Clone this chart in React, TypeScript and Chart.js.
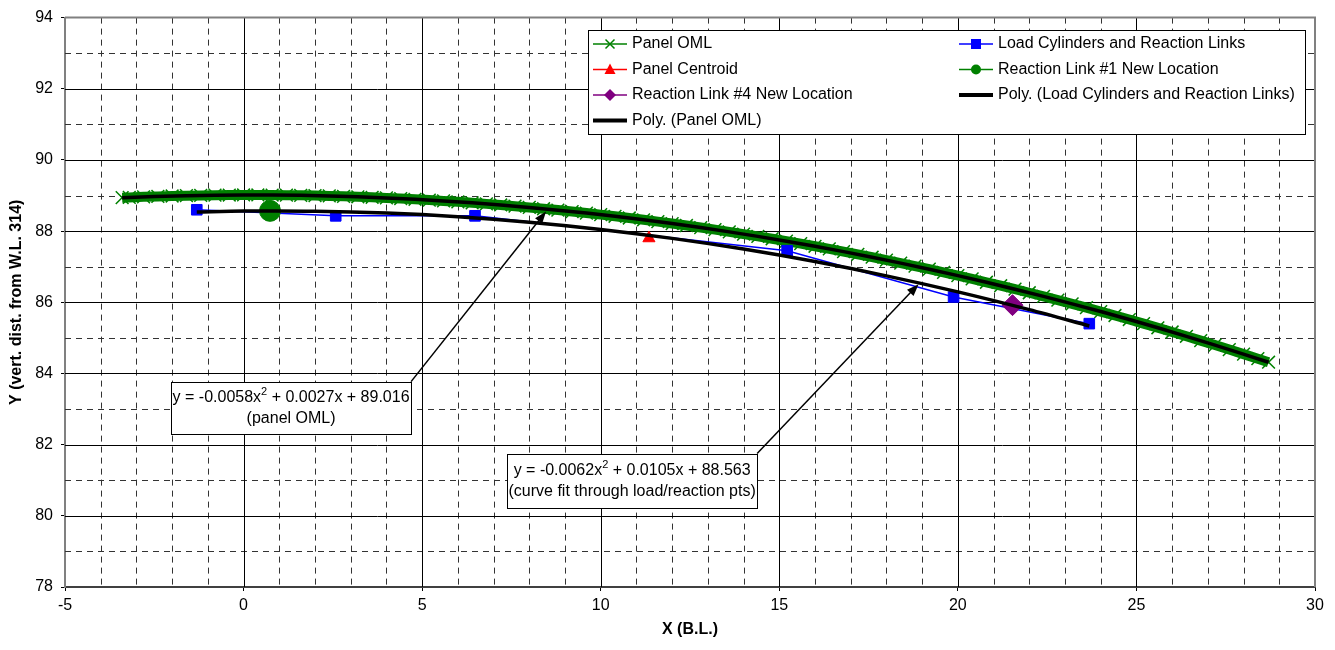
import React, { useEffect, useRef } from 'react';
import { Chart, registerables } from 'chart.js';

Chart.register(...registerables);

// ---------------- data ----------------
const omlX = [-3.4, -3.2, -2.8, -2.4, -2.0, -1.6, -1.2, -0.8, -0.4, 0,
  0.4, 0.8, 1.2, 1.6, 2.0, 2.4, 2.8, 3.2, 3.6, 4.0,
  4.4, 4.8, 5.2, 5.6, 6.0, 6.4, 6.8, 7.2, 7.6, 8.0,
  8.4, 8.8, 9.2, 9.6, 10.0, 10.4, 10.8, 11.2, 11.6, 12.0,
  12.4, 12.8, 13.2, 13.6, 14.0, 14.4, 14.8, 15.2, 15.6, 16.0,
  16.4, 16.8, 17.2, 17.6, 18.0, 18.4, 18.8, 19.2, 19.6, 20.0,
  20.4, 20.8, 21.2, 21.6, 22.0, 22.4, 22.8, 23.2, 23.6, 24.0,
  24.4, 24.8, 25.2, 25.6, 26.0, 26.4, 26.8, 27.2, 27.6, 28.0,
  28.4, 28.7];
const omlY = [88.940, 88.948, 88.963, 88.976, 88.987, 88.997, 89.004, 89.010, 89.014, 89.016,
  89.016, 89.014, 89.011, 89.005, 88.998, 88.989, 88.978, 88.965, 88.951, 88.934,
  88.916, 88.895, 88.873, 88.849, 88.823, 88.796, 88.766, 88.735, 88.702, 88.666,
  88.629, 88.591, 88.550, 88.507, 88.463, 88.417, 88.369, 88.319, 88.267, 88.213,
  88.158, 88.100, 88.041, 87.980, 87.917, 87.852, 87.786, 87.717, 87.647, 87.574,
  87.500, 87.424, 87.347, 87.267, 87.185, 87.102, 87.017, 86.930, 86.841, 86.750,
  86.657, 86.563, 86.466, 86.368, 86.268, 86.166, 86.063, 85.957, 85.849, 85.740,
  85.629, 85.516, 85.401, 85.284, 85.165, 85.045, 84.923, 84.798, 84.672, 84.544,
  84.415, 84.316];

const loadX = [-1.31, 2.58, 6.48, 15.22, 19.88, 23.68];
const loadY = [88.60, 88.43, 88.43, 87.45, 86.15, 85.40];

const centroidX = [11.35];
const centroidY = [87.80];

const link1X = [0.74];
const link1Y = [88.57];

const link4X = [21.53];
const link4Y = [85.92];

const polyLoadX = [-1.31, 0, 2, 4, 6, 8, 10, 12, 14, 16, 18, 20, 22, 23.68];
const polyLoadY = [88.539, 88.563, 88.559, 88.506, 88.403, 88.250, 88.048, 87.796, 87.495, 87.144, 86.743, 86.293, 85.793, 85.335];

const polyOmlX = [-3.4, -1.6, 0, 1.6, 3.2, 4.8, 6.4, 8.0, 9.6, 11.2, 12.8, 14.4, 16.0, 17.6, 19.2, 20.8, 22.4, 24.0, 25.6, 27.2, 28.7];
const polyOmlY = [88.940, 88.997, 89.016, 89.005, 88.965, 88.895, 88.796, 88.666, 88.507, 88.319, 88.100, 87.852, 87.574, 87.267, 86.930, 86.563, 86.166, 85.740, 85.284, 84.798, 84.316];

const xMin = -5, xMax = 30, xStep = 5;
const yMin = 78, yMax = 94, yStep = 2;

const seriesNames = [
  'Panel OML',
  'Load Cylinders and Reaction Links',
  'Panel Centroid',
  'Reaction Link #1 New Location',
  'Reaction Link #4 New Location',
  'Poly. (Load Cylinders and Reaction Links)',
  'Poly. (Panel OML)',
];

const xTitle = 'X (B.L.)';
const yTitle = 'Y (vert. dist. from W.L. 314)';

const eqOml = ['y = -0.0058x', '2', ' + 0.0027x + 89.016'];
const eqOmlNote = '(panel OML)';
const eqLoad = ['y = -0.0062x', '2', ' + 0.0105x + 88.563'];
const eqLoadNote = '(curve fit through load/reaction pts)';

// ---------------- helpers ----------------
const FONT = '"Liberation Sans", Arial, Helvetica, sans-serif';
const FS = 16;
const GREEN = '#008000';
const BLUE = '#0000FF';
const RED = '#FF0000';
const PURPLE = '#800080';

const zip = (xs: number[], ys: number[]) => xs.map((x, i) => ({ x, y: ys[i] }));

function drawMarker(ctx: CanvasRenderingContext2D, style: string, x: number, y: number, r: number, color: string) {
  ctx.save();
  ctx.fillStyle = color;
  ctx.strokeStyle = color;
  ctx.lineWidth = 1.5;
  ctx.beginPath();
  if (style === 'cross') {
    ctx.moveTo(x - r, y - r); ctx.lineTo(x + r, y + r);
    ctx.moveTo(x - r, y + r); ctx.lineTo(x + r, y - r);
    ctx.stroke();
  } else if (style === 'square') {
    ctx.fillRect(x - r, y - r, 2 * r, 2 * r);
  } else if (style === 'triangle') {
    ctx.moveTo(x, y - r * 1.1); ctx.lineTo(x + r, y + r * 0.8); ctx.lineTo(x - r, y + r * 0.8); ctx.closePath(); ctx.fill();
  } else if (style === 'circle') {
    ctx.arc(x, y, r, 0, Math.PI * 2); ctx.fill();
  } else if (style === 'diamond') {
    ctx.moveTo(x, y - r); ctx.lineTo(x + r, y); ctx.lineTo(x, y + r); ctx.lineTo(x - r, y); ctx.closePath(); ctx.fill();
  }
  ctx.restore();
}

function drawArrow(ctx: CanvasRenderingContext2D, x1: number, y1: number, x2: number, y2: number) {
  const ang = Math.atan2(y2 - y1, x2 - x1);
  const hl = 12, hw = 4.5;
  ctx.save();
  ctx.strokeStyle = '#000';
  ctx.fillStyle = '#000';
  ctx.lineWidth = 1.5;
  ctx.beginPath();
  ctx.moveTo(x1, y1);
  ctx.lineTo(x2 - Math.cos(ang) * hl * 0.8, y2 - Math.sin(ang) * hl * 0.8);
  ctx.stroke();
  ctx.beginPath();
  ctx.moveTo(x2, y2);
  ctx.lineTo(x2 - Math.cos(ang) * hl - Math.sin(ang) * hw, y2 - Math.sin(ang) * hl + Math.cos(ang) * hw);
  ctx.lineTo(x2 - Math.cos(ang) * hl + Math.sin(ang) * hw, y2 - Math.sin(ang) * hl - Math.cos(ang) * hw);
  ctx.closePath();
  ctx.fill();
  ctx.restore();
}

function drawEquationBox(ctx: CanvasRenderingContext2D, cx: number, cy: number, w: number, h: number, eq: string[], note: string) {
  ctx.save();
  const l = Math.round(cx - w / 2) + 0.5, t = Math.round(cy - h / 2) + 0.5;
  ctx.fillStyle = '#fff';
  ctx.fillRect(l, t, w, h);
  ctx.strokeStyle = '#000';
  ctx.lineWidth = 1;
  ctx.strokeRect(l, t, w, h);
  ctx.fillStyle = '#000';
  ctx.textBaseline = 'middle';
  ctx.textAlign = 'left';
  const big = `${FS}px ${FONT}`, small = `11px ${FONT}`;
  ctx.font = big; const w1 = ctx.measureText(eq[0]).width;
  ctx.font = small; const w2 = ctx.measureText(eq[1]).width;
  ctx.font = big; const w3 = ctx.measureText(eq[2]).width;
  let sx = cx - (w1 + w2 + w3) / 2;
  const ly = cy - 10;
  ctx.font = big; ctx.fillText(eq[0], sx, ly); sx += w1;
  ctx.font = small; ctx.fillText(eq[1], sx, ly - 6); sx += w2;
  ctx.font = big; ctx.fillText(eq[2], sx, ly);
  ctx.textAlign = 'center';
  ctx.fillText(note, cx, cy + 11);
  ctx.restore();
}

const decorPlugin = {
  id: 'excelDecor',
  beforeDatasetsDraw(chart: any) {
    const { ctx, chartArea: { left, right, top, bottom }, scales: { x, y } } = chart;
    ctx.save();
    ctx.lineWidth = 1;
    // minor dashed grid
    ctx.setLineDash([6, 5]);
    ctx.strokeStyle = '#333';
    for (let v = xMin + 1; v < xMax; v++) {
      if (v % xStep === 0) continue;
      const px = Math.round(x.getPixelForValue(v)) + 0.5;
      ctx.beginPath(); ctx.moveTo(px, top); ctx.lineTo(px, bottom); ctx.stroke();
    }
    for (let v = yMin + 1; v < yMax; v += 2) {
      const py = Math.round(y.getPixelForValue(v)) + 0.5;
      ctx.beginPath(); ctx.moveTo(left, py); ctx.lineTo(right, py); ctx.stroke();
    }
    ctx.setLineDash([]);
    ctx.strokeStyle = '#000';
    for (let v = xMin + xStep; v < xMax; v += xStep) {
      const px = Math.round(x.getPixelForValue(v)) + 0.5;
      ctx.beginPath(); ctx.moveTo(px, top); ctx.lineTo(px, bottom); ctx.stroke();
    }
    for (let v = yMin + yStep; v < yMax; v += yStep) {
      const py = Math.round(y.getPixelForValue(v)) + 0.5;
      ctx.beginPath(); ctx.moveTo(left, py); ctx.lineTo(right, py); ctx.stroke();
    }
    // top and right border of plot area
    ctx.strokeStyle = '#808080';
    ctx.lineWidth = 2;
    ctx.beginPath();
    ctx.moveTo(left, top); ctx.lineTo(right, top); ctx.lineTo(right, bottom);
    ctx.stroke();
    ctx.restore();
  },
  afterDatasetsDraw(chart: any) {
    const { ctx, scales: { x, y } } = chart;
    // annotation 1 (panel OML)
    const b1x = x.getPixelForValue(1.33), b1y = y.getPixelForValue(83.04);
    const w1 = 240, h1 = 52;
    drawArrow(ctx, b1x + w1 / 2, b1y - h1 / 2, x.getPixelForValue(8.47), y.getPixelForValue(88.55));
    drawEquationBox(ctx, b1x, b1y, w1, h1, eqOml, eqOmlNote);
    // annotation 2 (load curve fit)
    const b2x = x.getPixelForValue(10.88), b2y = y.getPixelForValue(80.99);
    const w2 = 250, h2 = 54;
    drawArrow(ctx, b2x + w2 / 2, b2y - h2 / 2, x.getPixelForValue(18.90), y.getPixelForValue(86.51));
    drawEquationBox(ctx, b2x, b2y, w2, h2, eqLoad, eqLoadNote);

    // legend
    ctx.save();
    const L = 588.5, T = 30.5, R = 1305.5, B = 134.5;
    ctx.fillStyle = '#fff';
    ctx.fillRect(L, T, R - L, B - T);
    ctx.strokeStyle = '#000';
    ctx.lineWidth = 1;
    ctx.strokeRect(L, T, R - L, B - T);
    const styles = [
      { color: GREEN, marker: 'cross', r: 4.5, lw: 1.5 },
      { color: BLUE, marker: 'square', r: 5, lw: 1.5 },
      { color: RED, marker: 'triangle', r: 5.5, lw: 1.5 },
      { color: GREEN, marker: 'circle', r: 5, lw: 1.5 },
      { color: PURPLE, marker: 'diamond', r: 6, lw: 1.5 },
      { color: '#000', marker: '', r: 0, lw: 4 },
      { color: '#000', marker: '', r: 0, lw: 4 },
    ];
    const colX = [593, 959];
    ctx.font = `${FS}px ${FONT}`;
    ctx.textBaseline = 'middle';
    ctx.textAlign = 'left';
    seriesNames.forEach((name, i) => {
      const col = i % 2, row = Math.floor(i / 2);
      const cx0 = colX[col];
      const cy = 44 + row * 25.5;
      const st = styles[i];
      ctx.strokeStyle = st.color;
      ctx.lineWidth = st.lw;
      ctx.beginPath(); ctx.moveTo(cx0, cy); ctx.lineTo(cx0 + 34, cy); ctx.stroke();
      if (st.marker) drawMarker(ctx, st.marker, cx0 + 17, cy, st.r, st.color);
      ctx.fillStyle = '#000';
      ctx.fillText(name, cx0 + 39, cy);
    });
    ctx.restore();
  },
};

export default function App() {
  const ref = useRef<HTMLCanvasElement>(null);
  useEffect(() => {
    document.body.style.margin = '0';
    const canvas = ref.current;
    if (!canvas) return;
    Chart.defaults.font.family = FONT;
    const chart = new Chart(canvas, {
      type: 'scatter',
      data: {
        datasets: [
          {
            label: seriesNames[6], data: zip(polyOmlX, polyOmlY), showLine: true,
            borderColor: '#000', borderWidth: 3.5, pointRadius: 0, tension: 0.3, order: 0,
          },
          {
            label: seriesNames[5], data: zip(polyLoadX, polyLoadY), showLine: true,
            borderColor: '#000', borderWidth: 3.5, pointRadius: 0, tension: 0.3, order: 0,
          },
          {
            label: seriesNames[4], data: zip(link4X, link4Y), pointStyle: 'rectRot',
            pointRadius: 10.5, backgroundColor: PURPLE, borderColor: PURPLE, borderWidth: 1, order: 1,
          },
          {
            label: seriesNames[3], data: zip(link1X, link1Y), pointStyle: 'circle',
            pointRadius: 10.5, backgroundColor: GREEN, borderColor: GREEN, borderWidth: 1, order: 1,
          },
          {
            label: seriesNames[2], data: zip(centroidX, centroidY), pointStyle: 'triangle',
            pointRadius: 7, backgroundColor: RED, borderColor: RED, borderWidth: 1, order: 1,
          },
          {
            label: seriesNames[1], data: zip(loadX, loadY), showLine: true, pointStyle: 'rect',
            pointRadius: 7.5, backgroundColor: BLUE, borderColor: BLUE, borderWidth: 1.5,
            pointBorderWidth: 1, order: 2,
          },
          {
            label: seriesNames[0], data: zip(omlX, omlY), showLine: true, pointStyle: 'crossRot',
            pointRadius: 9, backgroundColor: GREEN, borderColor: GREEN, borderWidth: 10,
            pointBorderWidth: 1.5, order: 3,
          },
        ],
      },
      options: {
        responsive: false,
        animation: false,
        events: [],
        layout: { padding: { top: 15, right: 20, left: 0, bottom: 0 } },
        plugins: { legend: { display: false }, tooltip: { enabled: false } },
        scales: {
          x: {
            type: 'linear', min: xMin, max: xMax,
            ticks: { stepSize: xStep, color: '#000', font: { size: FS, family: FONT }, padding: 5 },
            grid: { drawOnChartArea: false, drawTicks: true, tickLength: 4, tickColor: '#000' },
            border: { color: '#404040', width: 2 },
            title: { display: true, text: xTitle, color: '#000', font: { size: FS, weight: 'bold', family: FONT }, padding: { top: 0, bottom: 11 } },
            afterFit: (s: any) => { s.height = 63; },
          },
          y: {
            type: 'linear', min: yMin, max: yMax,
            ticks: { stepSize: yStep, color: '#000', font: { size: FS, family: FONT }, padding: 8 },
            grid: { drawOnChartArea: false, drawTicks: true, tickLength: 4, tickColor: '#000' },
            border: { color: '#808080', width: 2 },
            title: { display: true, text: yTitle, color: '#000', font: { size: FS, weight: 'bold', family: FONT }, padding: { top: 7, bottom: 0 } },
            afterFit: (s: any) => { s.width = 65; },
          },
        },
      },
      plugins: [decorPlugin],
    } as any);
    return () => chart.destroy();
  }, []);
  return (
    <div style={{ width: 1335, height: 650 }}>
      <canvas ref={ref} width={1335} height={650} style={{ display: 'block' }} />
    </div>
  );
}
